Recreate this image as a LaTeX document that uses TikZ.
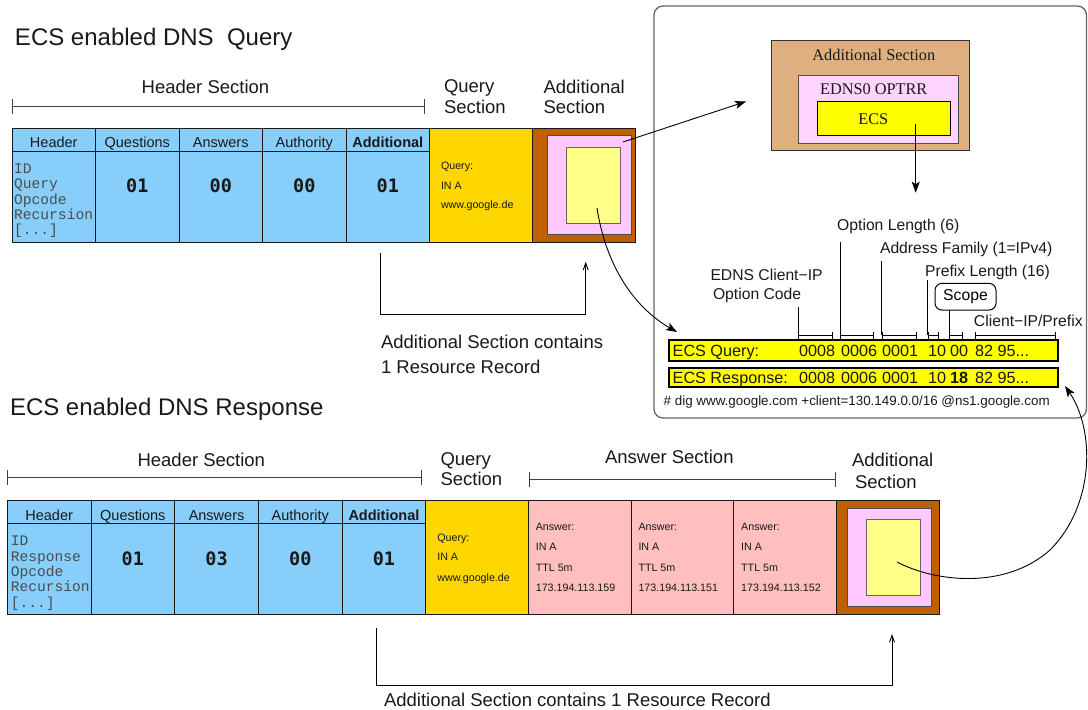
\documentclass[tikz,border=0pt]{standalone}
\usepackage{fontspec}
\setmainfont{Liberation Sans}
\newfontfamily\tmsf{Liberation Serif}
\newfontfamily\crf{Liberation Mono}
\newfontfamily\dvm{DejaVu Sans Mono}
\usetikzlibrary{arrows.meta}
\newcommand\sz[1]{\fontsize{#1}{#1}\selectfont}
\newcommand\brdots{[...]}
\definecolor{hdrblue}{HTML}{87CEFA}
\definecolor{qgold}{HTML}{FFD700}
\definecolor{addbrown}{HTML}{C05F00}
\definecolor{addpink}{HTML}{FFC8FF}
\definecolor{innyel}{HTML}{FFFF88}
\definecolor{anspink}{HTML}{FFBFBF}
\definecolor{tanc}{HTML}{DEB080}
\definecolor{optpink}{HTML}{FFD4FF}
\definecolor{ecsyel}{HTML}{FFFF00}
\newcommand\bx[6]{\node[box,#6,minimum width={(#4)-(#2)},minimum height={(#5)-(#3)}] (#1) at (#2,#3) {};}
\begin{document}
\begin{tikzpicture}[x=1pt,y=-1pt,
  box/.style={draw=black!90, line width=1pt, anchor=north west, inner sep=0pt, outer sep=0pt},
  t/.style={inner sep=0pt, outer sep=0pt, anchor=base, font=\sz{18.5}, text=black!90},
  tl/.style={t, anchor=base west},
  brk/.style={draw=black!75, line width=0.9pt, {Bar[width=15pt]}-{Bar[width=15pt]}},
  sbrk/.style={draw=black, line width=0.9pt, {Bar[width=7pt]}-{Bar[width=7pt]}},
  cur/.style={line width=0.9pt, -{Stealth[length=11pt,width=8pt,inset=2.5pt]}},
  opn/.style={line width=0.9pt, -{Straight Barb[length=7pt,width=5pt]}},
  vln/.style={line width=0.9pt, draw=black}
]
\useasboundingbox (0,0) rectangle (1088,710);

% ---------------- titles ----------------
\node[tl,font=\sz{24}] (t1) at (15,45) {ECS enabled DNS\ \ Query};
\node[tl,font=\sz{24}] (t2) at (10,415) {ECS enabled DNS Response};

% ---------------- top table ----------------
\node[t] (lhs1) at (205.5,93.3) {Header Section};
\draw[brk] (12,106.7) -- (425.3,106.7);
\node[tl] (lqs1) at (444,92.5) {Query};
\node[tl] (lqs2) at (444,113.3) {Section};
\node[tl] (las1) at (543.5,93.3) {Additional};
\node[tl] (las2) at (543.5,113.3) {Section};

\foreach \lab/\num [count=\i from 0] in {Header/,Questions/01,Answers/00,Authority/00,{\textbf{Additional}}/01}{
  \pgfmathsetmacro\xa{12+83.5*\i}
  \pgfmathsetmacro\xb{\xa+83.5}
  \bx{qh\i}{\xa}{128}{\xb}{151}{fill=hdrblue}
  \bx{qb\i}{\xa}{151}{\xb}{242}{fill=hdrblue}
  \node[t,font=\sz{14.5}] at ({(\xa+\xb)/2},147.3) {\lab};
  \node[t,font=\dvm\bfseries\sz{18.5}] at ({(\xa+\xb)/2},192.7) {\num};
}
\foreach \s [count=\k from 0] in {ID,Query,Opcode,Recursion,\brdots}{
  \node[tl,font=\crf\sz{14.6},text=black!70] at (14.2,{173.5+15.3*\k}) {\s};
}
\bx{qq}{429.5}{128}{532.5}{242}{fill=qgold}
\node[tl,font=\sz{10.7}] at (441,169) {Query:};
\node[tl,font=\sz{10.7}] at (441,189) {IN A};
\node[tl,font=\sz{10.7}] at (441,208.3) {www.google.de};
\bx{qa}{532.5}{128}{635}{242}{fill=addbrown}
\bx{qap}{547.3}{135.3}{631}{234.3}{fill=addpink, draw=black!70, line width=1pt}
\bx{qay}{566}{147}{620}{223.3}{fill=innyel, draw=black!60, line width=1pt}

% bracket arrow top
\coordinate (ra1) at (380.7,253.3);
\coordinate (ra2) at (585.7,261.7);
\draw[opn] (ra1) -- ++(0,60.7) -| (ra2);
\node[tl] (lac1) at (381,348.3) {Additional Section contains};
\node[tl] (lac2) at (381,373.3) {1 Resource Record};

% ---------------- ECS frame ----------------
\bx{frame}{654}{6}{1086.5}{418}{draw=black!60, rounded corners=9pt, line width=1.3pt}
\bx{tan}{771.7}{40.7}{969.3}{150.7}{fill=tanc, draw=black!80, line width=1pt}
\node[t,font=\tmsf\sz{16.3}] at (873.8,60) {Additional Section};
\bx{opt}{798.3}{75}{958.3}{143.3}{fill=optpink, draw=black!70, line width=1pt}
\node[t,font=\tmsf\sz{16.3}] at (873.7,94) {EDNS0 OPTRR};
\bx{ecs}{817.3}{101.7}{950.7}{135.3}{fill=ecsyel, draw=black, line width=1pt}
\node[t,font=\tmsf\sz{16.3}] at (873.3,124) {ECS};

\coordinate (qaps) at (623,142);
\coordinate (tanin) at (746,101.5);
\draw[cur] (qaps) -- (tanin);
\coordinate (ecsin) at (915.7,124);
\coordinate (ecsdown) at (915.7,192.7);
\draw[cur] (ecsin) -- (ecsdown);

% field labels
\node[t,font=\sz{15.7}] at (898.3,230.7) {Option Length (6)};
\node[t,font=\sz{15.7}] at (966.2,253.3) {Address Family (1=IPv4)};
\node[t,font=\sz{15.7}] at (987.5,276) {Prefix Length (16)};
\node[tl,font=\sz{15.7}] at (710.5,280) {EDNS Client−IP};
\node[tl,font=\sz{15.7}] at (713,299) {Option Code};
\node[draw, rounded corners=7pt, line width=1pt, minimum width=61pt, minimum height=26.7pt, inner sep=0pt, font=\sz{15.7}] (scope) at (965.5,296.7) {Scope};
\node[t,font=\sz{15.7}] at (1028.3,326) {Client−IP/Prefix};

\draw[vln] (798.3,306.7) -- (798.3,335);
\draw[vln] (840,241.7) -- (840,335);
\draw[vln] (881.7,261) -- (881.7,335);
\draw[vln] (927.7,280) -- (927.7,335);
\draw[vln] (949,310) -- (949,335);
\draw[sbrk] (798.3,335) -- (832.7,335);
\draw[sbrk] (840,335) -- (874.3,335);
\draw[sbrk] (881.7,335) -- (916.7,335);
\draw[sbrk] (927.7,335) -- (939,335);
\draw[sbrk] (949,335) -- (963.3,335);
\draw[sbrk] (975,335) -- (1056,335);

\bx{ecsq}{669.3}{340}{1057.7}{360.7}{fill=ecsyel, draw=black, line width=1.8pt}
\bx{ecsr}{669.3}{367.7}{1057.7}{386.7}{fill=ecsyel, draw=black, line width=1.8pt}
\foreach \yy/\nm/\sc in {356.7/ECS Query:/00, 383.3/ECS Response:/\textbf{18}}{
  \node[tl,font=\sz{16.2}] at (672.7,\yy) {\nm};
  \node[tl,font=\sz{16.2}] at (799,\yy) {0008};
  \node[tl,font=\sz{16.2}] at (841,\yy) {0006};
  \node[tl,font=\sz{16.2}] at (882,\yy) {0001};
  \node[tl,font=\sz{16.2}] at (928,\yy) {10};
  \node[tl,font=\sz{16.2}] at (950,\yy) {\sc};
  \node[tl,font=\sz{16.2}] at (975,\yy) {82 95...};
}
\node[t,font=\sz{13.4}] at (856.7,405) {\# dig www.google.com +client=130.149.0.0/16 @ns1.google.com};

\coordinate (qcs) at (597,208);
\coordinate (ecsqa) at (677,332);
\draw[cur] (qcs) .. controls (605,260) and (630,305) .. (ecsqa);

% ---------------- bottom table ----------------
\node[t] (lhs2) at (201.3,466) {Header Section};
\draw[brk] (7.3,477.7) -- (421.7,477.7);
\node[tl] at (440.5,465) {Query};
\node[tl] at (440.5,485) {Section};
\node[t] at (669.3,463.3) {Answer Section};
\draw[brk] (529,479.3) -- (836,479.3);
\node[tl] at (852,466) {Additional};
\node[tl] at (855,488.3) {Section};

\foreach \lab/\num [count=\i from 0] in {Header/,Questions/01,Answers/03,Authority/00,{\textbf{Additional}}/01}{
  \pgfmathsetmacro\xa{7.3+83.7*\i}
  \pgfmathsetmacro\xb{\xa+83.7}
  \bx{rh\i}{\xa}{500.7}{\xb}{523.3}{fill=hdrblue}
  \bx{rb\i}{\xa}{523.3}{\xb}{614}{fill=hdrblue}
  \node[t,font=\sz{14.5}] at ({(\xa+\xb)/2},520) {\lab};
  \node[t,font=\dvm\bfseries\sz{18.5}] at ({(\xa+\xb)/2},565) {\num};
}
\foreach \s [count=\k from 0] in {ID,Response,Opcode,Recursion,\brdots}{
  \node[tl,font=\crf\sz{14.6},text=black!70] at (10.8,{545.8+15.3*\k}) {\s};
}
\bx{rq}{425.8}{500.7}{528.3}{614}{fill=qgold}
\node[tl,font=\sz{10.7}] at (437.3,541) {Query:};
\node[tl,font=\sz{10.7}] at (437.3,560.7) {IN A};
\node[tl,font=\sz{10.7}] at (437.3,581) {www.google.de};
\foreach \xa/\xb/\ip [count=\j] in {528.3/631/173.194.113.159, 631/733.7/173.194.113.151, 733.7/836.7/173.194.113.152}{
  \bx{ra\j}{\xa}{500.7}{\xb}{614}{fill=anspink}
  \node[tl,font=\sz{10.7}] at ({\xa+7.5},530.7) {Answer:};
  \node[tl,font=\sz{10.7}] at ({\xa+7.5},550.7) {IN A};
  \node[tl,font=\sz{10.7}] at ({\xa+7.5},571.7) {TTL 5m};
  \node[tl,font=\sz{10.7}] at ({\xa+7.5},591.7) {\ip};
}
\bx{rad}{836.7}{500.7}{939}{614}{fill=addbrown}
\bx{radp}{847.7}{508.3}{931}{606.7}{fill=addpink, draw=black!70, line width=1pt}
\bx{rady}{866.7}{519.3}{920}{595.7}{fill=innyel, draw=black!60, line width=1pt}

% bracket arrow bottom
\coordinate (rb1) at (376,627.5);
\coordinate (rb2) at (892,634);
\draw[opn] (rb1) -- ++(0,57.5) -| (rb2);
\node[tl] at (384,706) {Additional Section contains 1 Resource Record};

% curve bottom -> ECS response
\coordinate (rcs) at (897,562);
\coordinate (ecsra) at (1065,386);
\draw[cur] (rcs) .. controls (935,582) and (1005,590) .. (1050,550) .. controls (1095,505) and (1095,430) .. (ecsra);
\end{tikzpicture}
\end{document}
